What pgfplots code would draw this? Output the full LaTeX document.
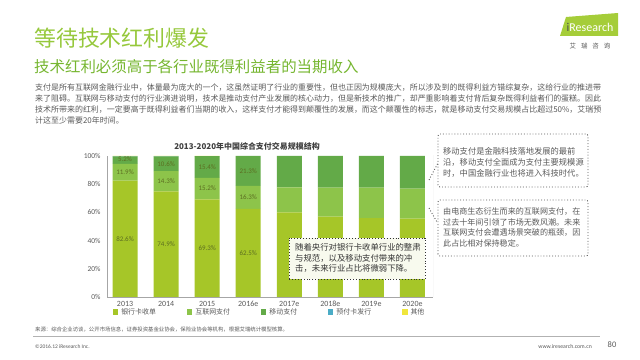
\documentclass[border=0pt]{standalone}
\usepackage{fontspec}
\setmainfont{Noto Sans CJK SC}
\newfontfamily\carl{Carlito}
\usepackage{pgfplots}
\pgfplotsset{compat=1.18}
\usepackage{pgfplotstable}
\definecolor{bank}{RGB}{166,198,40}
\definecolor{inet}{RGB}{141,196,74}
\definecolor{mob}{RGB}{99,170,72}
\definecolor{prep}{RGB}{75,172,198}
\definecolor{oth}{RGB}{240,230,60}
\definecolor{titlegreen}{RGB}{150,200,60}
\definecolor{subgreen}{RGB}{118,182,48}
\definecolor{txtgray}{RGB}{89,89,89}
\definecolor{lblcol}{RGB}{92,110,33}
\definecolor{boxfill}{RGB}{248,250,238}
\definecolor{logogreen}{RGB}{165,205,57}

\pgfplotstableread{
x bank inet mob prep oth
0 82.6 11.9 5.2 0.2 0.1
1 74.9 14.3 10.6 0.1 0.1
2 69.3 15.2 15.4 0.05 0.05
3 62.5 16.3 21.2 0 0
4 60.0 17.8 22.2 0 0
5 57.0 20.6 22.4 0 0
6 56.0 21.6 22.4 0 0
7 55.6 21.2 23.2 0 0
}\datatab

\pgfplotstableread{
x y lbl
0 41.3 82.6
0 88.55 11.9
0 97.6 5.2
1 37.45 74.9
1 82.05 14.3
1 94.5 10.6
2 34.65 69.3
2 76.9 15.2
2 92.2 15.4
3 31.25 62.5
3 70.65 16.3
3 89.45 21.3
}\labtab

\pgfplotsset{sq legend/.style={legend image code/.code={\fill[##1] (0bp,-2.6bp) rectangle (5.2bp,2.6bp);}}}

\begin{document}
\begin{tikzpicture}
\path[use as bounding box] (0bp,0bp) rectangle (640bp,360bp);
\begin{axis}[
  at={(107bp,63bp)}, anchor=south west,
  scale only axis, width=326bp, height=141bp,
  xmin=-0.44, xmax=7.5, ymin=0, ymax=100,
  ybar stacked, bar width=25bp,
  axis lines*=left,
  axis line style={draw=black!35, line width=0.6bp},
  xtick={0,...,7},
  xticklabels={2013,2014,2015,2016e,2017e,2018e,2019e,2020e},
  ytick={0,20,40,60,80,100},
  yticklabels={0\%,20\%,40\%,60\%,80\%,100\%},
  major tick length=0pt,
  /pgf/number format/assume math mode=true,
  xticklabel style={font=\carl\fontsize{8}{9}\selectfont, text=txtgray, yshift=-1bp},
  yticklabel style={font=\carl\fontsize{7.5}{9}\selectfont, text=txtgray, xshift=-3bp},
  legend columns=5,
  legend style={at={(0.018,-0.106)}, anchor=west, draw=none, fill=none, inner sep=0pt,
    font=\fontsize{7}{8}\selectfont, text=txtgray,
    /tikz/every even column/.append style={column sep=29bp},
    /tikz/every odd column/.append style={column sep=1bp}},
]
\addplot[fill=bank, draw=none, sq legend] table[x=x,y=bank]{\datatab};
\addlegendentry{银行卡收单}
\addplot[fill=inet, draw=none, sq legend] table[x=x,y=inet]{\datatab};
\addlegendentry{互联网支付}
\addplot[fill=mob, draw=none, sq legend] table[x=x,y=mob]{\datatab};
\addlegendentry{移动支付}
\addplot[fill=prep, draw=none, sq legend] table[x=x,y=prep]{\datatab};
\addlegendentry{预付卡发行}
\addplot[fill=oth, draw=none, sq legend] table[x=x,y=oth]{\datatab};
\addlegendentry{其他}
\draw[black!18, line width=0.6bp] (rel axis cs:1,0) -- (rel axis cs:1,1.01);
\end{axis}
\begin{axis}[
  at={(107bp,63bp)}, anchor=south west,
  scale only axis, width=326bp, height=141bp,
  xmin=-0.44, xmax=7.5, ymin=0, ymax=100, hide axis]
\addplot[draw=none, point meta=explicit symbolic,
  nodes near coords={\pgfplotspointmeta\%},
  nodes near coords style={anchor=center, font=\carl\fontsize{7}{8}\selectfont, text=lblcol}]
  table[x=x,y=y,meta=lbl]{\labtab};
\end{axis}
\begin{scope}[x=1bp,y=1bp]
% titles
\node[anchor=west, text=titlegreen, font=\fontsize{22}{24}\selectfont, inner sep=0] at (34,322) {等待技术红利爆发};
\node[anchor=west, text=subgreen, font=\fontsize{15.5}{17}\selectfont, inner sep=0] at (34,293) {技术红利必须高于各行业既得利益者的当期收入};
% logo
\fill[logogreen] (560,324) -- (618,324) -- (618,347) -- (566,343) -- cycle;
\node[font=\carl\fontsize{12}{13}\selectfont, inner sep=0, text=white] at (590,333) {\textcolor{black!70}{i}Research};
\node[font=\fontsize{6.5}{7}\selectfont, text=txtgray, inner sep=0] at (590,314) {艾\hspace{5bp}瑞\hspace{5bp}咨\hspace{5bp}询};
% body text
\node[anchor=north west, align=left, inner sep=0, text=txtgray, font=\fontsize{8}{11}\selectfont] at (35,276) {支付是所有互联网金融行业中，体量最为庞大的一个，这虽然证明了行业的重要性，但也正因为规模庞大，所以涉及到的既得利益方错综复杂，这给行业的推进带\\来了阻碍。互联网与移动支付的行业演进说明，技术是推动支付产业发展的核心动力，但是新技术的推广，却严重影响着支付背后复杂既得利益者们的蛋糕。因此\\技术所带来的红利，一定要高于既得利益者们当期的收入，这样支付才能得到颠覆性的发展，而这个颠覆性的标志，就是移动支付交易规模占比超过50\%，艾瑞预\\计这至少需要20年时间。};
% chart title
\node[font=\bfseries\fontsize{8}{9}\selectfont, text=black!75, inner sep=0] at (247,214) {2013-2020年中国综合支付交易规模结构};
% callout boxes
\draw[black!65, dotted, line width=0.9bp, rounded corners=2bp] (438,173) rectangle (588,226);
\node[anchor=west, align=left, inner sep=0, text=txtgray, font=\fontsize{8.3}{11}\selectfont] at (443,198) {移动支付是金融科技落地发展的最前\\沿，移动支付全面成为支付主要规模源\\时，中国金融行业也将进入科技时代。};
\draw[black!65, dotted, line width=0.9bp, rounded corners=2bp] (438,104) rectangle (588,160);
\node[anchor=west, align=left, inner sep=0, text=txtgray, font=\fontsize{8.1}{10.5}\selectfont] at (443,132.5) {由电商生态衍生而来的互联网支付，在\\过去十年间引领了市场无数风潮。未来\\互联网支付会遭遇场景突破的瓶颈，因\\此占比相对保持稳定。};
\draw[black!65, dotted, line width=0.9bp] (429,180) -- (438,197);
\draw[black!65, dotted, line width=0.9bp] (429,152) -- (437,138);
\draw[black!80, dotted, line width=0.9bp, fill=boxfill] (289,81) rectangle (425,122);
\node[anchor=west, align=left, inner sep=0, text=black!80, font=\fontsize{8.4}{10.5}\selectfont] at (295,102) {随着央行对银行卡收单行业的整肃\\与规范，以及移动支付带来的冲\\击，未来行业占比将微弱下降。};
% footer
\node[anchor=west, inner sep=0, text=txtgray, font=\fontsize{5.4}{6}\selectfont] at (35,30) {来源：综合企业访谈，公开市场信息，证券投资基金业协会，保险业协会等机构，根据艾瑞统计模型核算。};
\draw[black!30, line width=0.5bp] (33,23.5) -- (600,23.5);
\node[anchor=west, inner sep=0, text=txtgray, font=\carl\fontsize{5.5}{6}\selectfont] at (35,13) {©2016.12 iResearch Inc.};
\node[anchor=east, inner sep=0, text=txtgray, font=\carl\fontsize{5.8}{6}\selectfont] at (592,13) {www.iresearch.com.cn};
\node[inner sep=0, text=txtgray, font=\carl\fontsize{8.5}{9}\selectfont] at (612,15) {80};
\end{scope}
\end{tikzpicture}
\end{document}
